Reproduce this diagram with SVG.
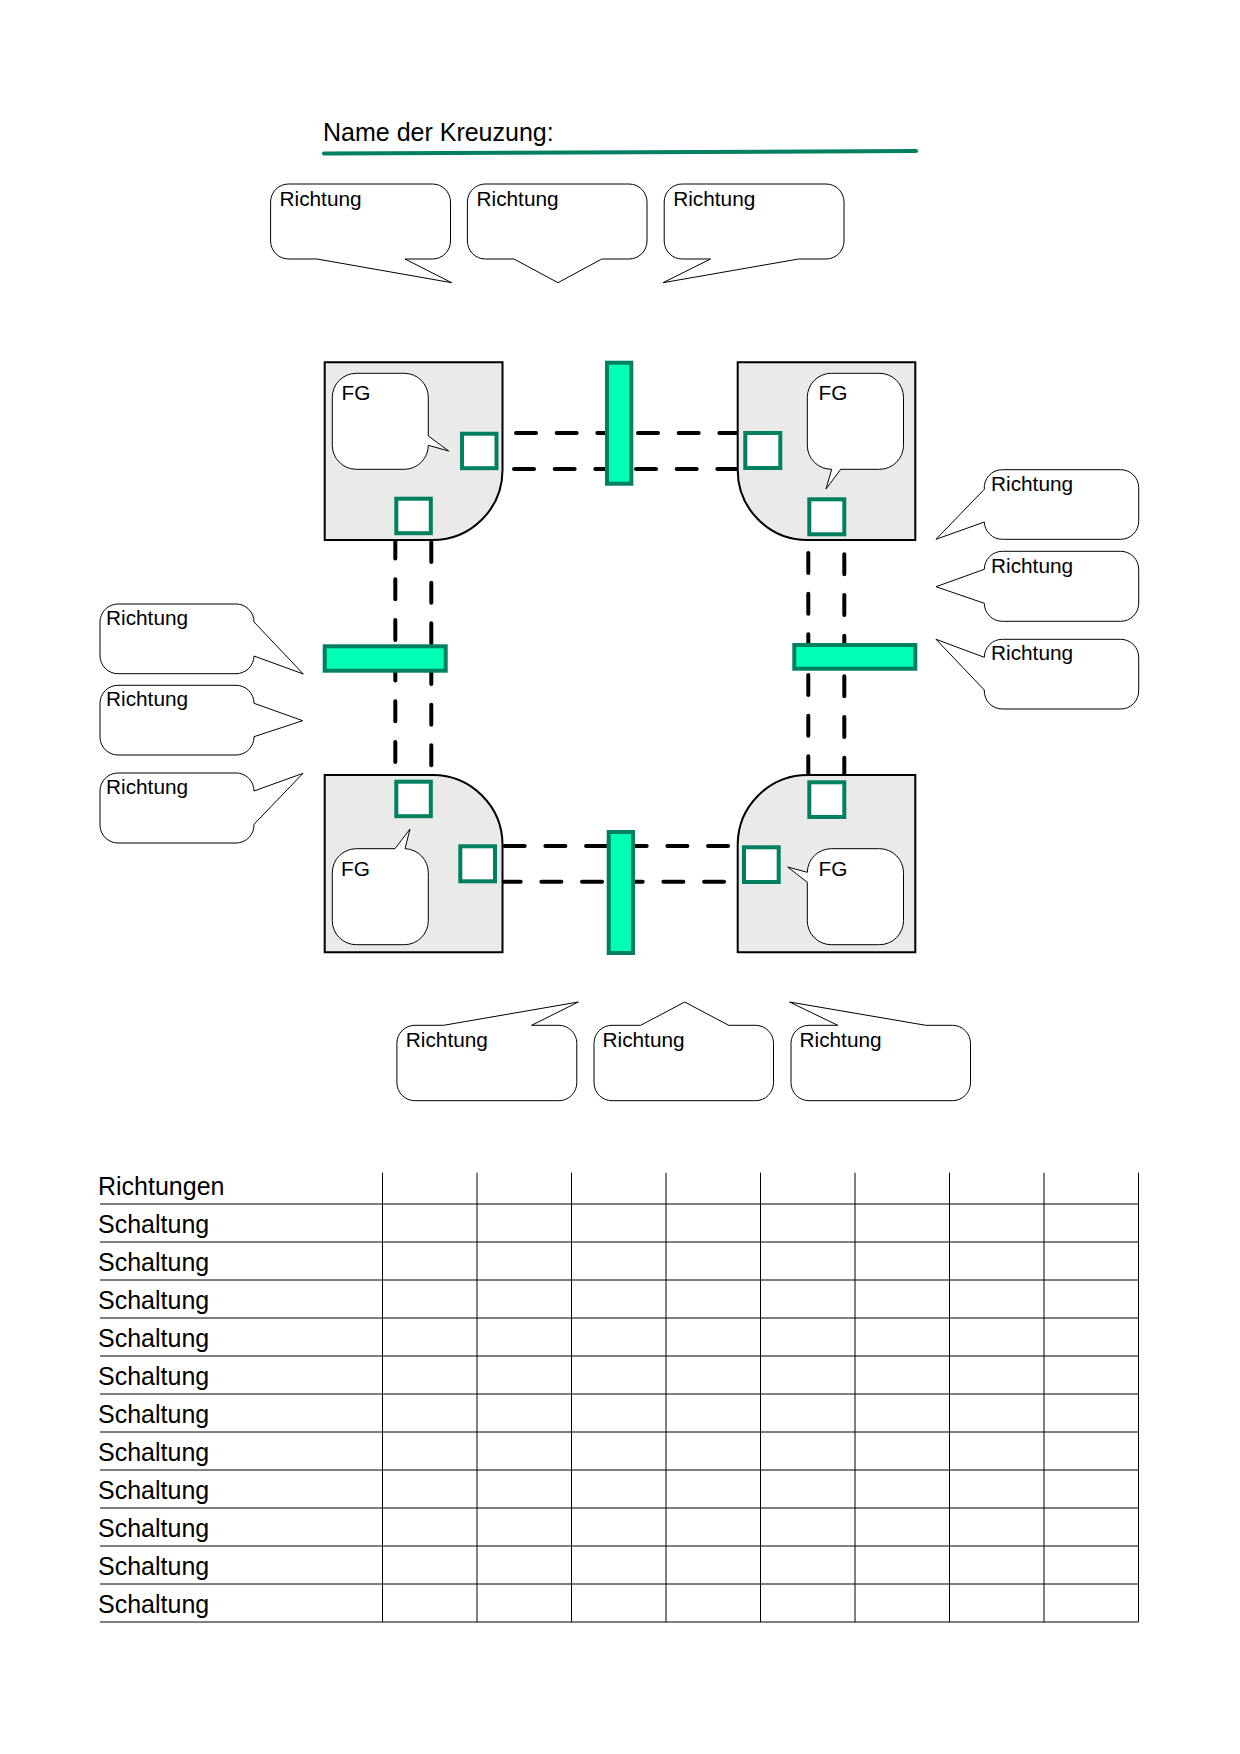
<svg xmlns="http://www.w3.org/2000/svg" width="1240" height="1754" viewBox="0 0 1240 1754">
<style>
text{font-family:"Liberation Sans",Arial,sans-serif;fill:#000}
.d{font-size:20.8px}
.t{font-size:25px}
.c{fill:#fff;stroke:#000;stroke-width:1}
.j{fill:#eaeaea;stroke:#000;stroke-width:2}
.s{fill:#fff;stroke:#008060;stroke-width:4}
.b{fill:#00ffb4;stroke:#008060;stroke-width:4}
.conn{fill:none;stroke:#000;stroke-width:4;stroke-linecap:round;stroke-dasharray:20 20.67}
.g{fill:none;stroke:#000;stroke-width:1}
</style>
<rect width="1240" height="1754" fill="#fff"/>
<g id="title">
<text class="t" x="323" y="141">Name der Kreuzung:</text>
<path d="M324 153.5L916 151" fill="none" stroke="#008060" stroke-width="4" stroke-linecap="round"/>
</g>
<g id="connectors">
<path class="conn" d="M516 433H739"/>
<path class="conn" d="M514 469H739"/>
<path class="conn" d="M504.7 846H730"/>
<path class="conn" d="M500.7 881.7H726"/>
<path class="conn" d="M395.3 538.6V764"/>
<path class="conn" d="M431.3 542V768"/>
<path class="conn" d="M808.3 553V778"/>
<path class="conn" d="M844.3 554.3V778"/>
</g>
<g id="junction-tl">
<path class="j" d="M324.7 362.3H502.5V470A70 70 0 0 1 432.5 540H324.7Z"/>
<rect class="s" x="462" y="433.7" width="34.5" height="34.5"/>
<rect class="s" x="396.3" y="498.7" width="34.5" height="34.5"/>
<path class="c" d="M356.3 373.3H404.3A24 24 0 0 1 428.3 397.3V436L448.7 451L428.3 445.3A24 24 0 0 1 404.3 469.3H356.3A24 24 0 0 1 332.3 445.3V397.3A24 24 0 0 1 356.3 373.3Z"/>
<text class="d" x="341.5" y="400">FG</text>
</g>
<g id="junction-tr">
<path class="j" d="M737.7 362.3H915.3V540H807.7A70 70 0 0 1 737.7 470Z"/>
<rect class="s" x="745.3" y="433" width="35" height="35"/>
<rect class="s" x="809.3" y="499.3" width="35" height="35"/>
<path class="c" d="M831.3 373.3H879.5A24 24 0 0 1 903.5 397.3V445.3A24 24 0 0 1 879.5 469.3H840.7L826 489L831.7 469.3A24 24 0 0 1 807.3 445.3V397.3A24 24 0 0 1 831.3 373.3Z"/>
<text class="d" x="818.5" y="400">FG</text>
</g>
<g id="junction-bl">
<path class="j" d="M324.7 775H432.5A70 70 0 0 1 502.5 845V952.3H324.7Z"/>
<rect class="s" x="396.3" y="781.7" width="34.5" height="34.5"/>
<rect class="s" x="460.3" y="846.3" width="34.7" height="35"/>
<path class="c" d="M356.3 848.7H395L410 829L405 848.7A24 24 0 0 1 428.3 872.7V920.7A24 24 0 0 1 404.3 944.7H356.3A24 24 0 0 1 332.3 920.7V872.7A24 24 0 0 1 356.3 848.7Z"/>
<text class="d" x="341" y="876">FG</text>
</g>
<g id="junction-br">
<path class="j" d="M807.7 775H915.3V952.3H737.7V845A70 70 0 0 1 807.7 775Z"/>
<rect class="s" x="809.3" y="782.3" width="35" height="34.7"/>
<rect class="s" x="744" y="847.3" width="34.7" height="34.7"/>
<path class="c" d="M831.3 848.7H879.5A24 24 0 0 1 903.5 872.7V920.7A24 24 0 0 1 879.5 944.7H831.3A24 24 0 0 1 807.3 920.7V882.3L787.7 867L807.3 872.3A24 24 0 0 1 831.3 848.7Z"/>
<text class="d" x="818.5" y="876">FG</text>
</g>
<g id="bar-top"><rect class="b" x="607" y="362.7" width="24.3" height="121"/></g>
<g id="bar-bottom"><rect class="b" x="608.7" y="832" width="24.3" height="121"/></g>
<g id="bar-left"><rect class="b" x="324.7" y="646.3" width="121" height="24.4"/></g>
<g id="bar-right"><rect class="b" x="794.3" y="645" width="121" height="23.7"/></g>
<g id="callout-top-1">
<path class="c" d="M288.6 184H432.5A18 18 0 0 1 450.5 202V241A18 18 0 0 1 432.5 259H405L451.6 282.7L317 259H288.6A18 18 0 0 1 270.6 241V202A18 18 0 0 1 288.6 184Z"/>
<text class="d" x="279.5" y="206">Richtung</text>
</g>
<g id="callout-top-2">
<path class="c" d="M485.4 184H629A18 18 0 0 1 647 202V241A18 18 0 0 1 629 259H601.8L558 282.7L514 259H485.4A18 18 0 0 1 467.4 241V202A18 18 0 0 1 485.4 184Z"/>
<text class="d" x="476.5" y="206">Richtung</text>
</g>
<g id="callout-top-3">
<path class="c" d="M682.2 184H826A18 18 0 0 1 844 202V241A18 18 0 0 1 826 259H798.6L663 282.7L710.5 259H682.2A18 18 0 0 1 664.2 241V202A18 18 0 0 1 682.2 184Z"/>
<text class="d" x="673.2" y="206">Richtung</text>
</g>
<g id="callout-left-1">
<path class="c" d="M118 604H236A18 18 0 0 1 254 622L303.3 674L254 656A18 18 0 0 1 236 673.7H118A18 18 0 0 1 100 655.7V622A18 18 0 0 1 118 604Z"/>
<text class="d" x="106" y="624.5">Richtung</text>
</g>
<g id="callout-left-2">
<path class="c" d="M118 685.3H236A18 18 0 0 1 254 703.3L302.7 720.7L254 736.7A18 18 0 0 1 236 755H118A18 18 0 0 1 100 737V703.3A18 18 0 0 1 118 685.3Z"/>
<text class="d" x="106" y="705.8">Richtung</text>
</g>
<g id="callout-left-3">
<path class="c" d="M118 773H236A18 18 0 0 1 254 791L303 773.3L254 824.3A18 18 0 0 1 236 843H118A18 18 0 0 1 100 825V791A18 18 0 0 1 118 773Z"/>
<text class="d" x="106" y="793.8">Richtung</text>
</g>
<g id="callout-right-1">
<path class="c" d="M1002.3 469.7H1120.7A18 18 0 0 1 1138.7 487.7V521.3A18 18 0 0 1 1120.7 539.3H1002.3A18 18 0 0 1 984.3 522L936 539.3L984.3 489.3A18 18 0 0 1 1002.3 469.7Z"/>
<text class="d" x="991" y="491.2">Richtung</text>
</g>
<g id="callout-right-2">
<path class="c" d="M1002.3 551.3H1120.7A18 18 0 0 1 1138.7 569.3V603.3A18 18 0 0 1 1120.7 621.3H1002.3A18 18 0 0 1 984.3 603.3L936 586.7L984.3 569.3A18 18 0 0 1 1002.3 551.3Z"/>
<text class="d" x="991" y="572.8">Richtung</text>
</g>
<g id="callout-right-3">
<path class="c" d="M1002.3 639.3H1120.7A18 18 0 0 1 1138.7 657.3V691A18 18 0 0 1 1120.7 709H1002.3A18 18 0 0 1 984.3 690L936 639.3L984.3 657.3A18 18 0 0 1 1002.3 639.3Z"/>
<text class="d" x="991" y="660">Richtung</text>
</g>
<g id="callout-bottom-1">
<path class="c" d="M414.9 1025.3H443.6L578.3 1002L531.6 1025.3H558.8A18 18 0 0 1 576.8 1043.3V1082.7A18 18 0 0 1 558.8 1100.7H414.9A18 18 0 0 1 396.9 1082.7V1043.3A18 18 0 0 1 414.9 1025.3Z"/>
<text class="d" x="405.8" y="1047">Richtung</text>
</g>
<g id="callout-bottom-2">
<path class="c" d="M612 1025.3H640.7L684.7 1002L728.7 1025.3H755.5A18 18 0 0 1 773.5 1043.3V1082.7A18 18 0 0 1 755.5 1100.7H612A18 18 0 0 1 594 1082.7V1043.3A18 18 0 0 1 612 1025.3Z"/>
<text class="d" x="602.5" y="1047">Richtung</text>
</g>
<g id="callout-bottom-3">
<path class="c" d="M809 1025.3H837.8L789.5 1002L925.8 1025.3H952.5A18 18 0 0 1 970.5 1043.3V1082.7A18 18 0 0 1 952.5 1100.7H809A18 18 0 0 1 791 1082.7V1043.3A18 18 0 0 1 809 1025.3Z"/>
<text class="d" x="799.5" y="1047">Richtung</text>
</g>
<g id="table">
<path class="g" d="M100 1204H1138.3M100 1242H1138.3M100 1280H1138.3M100 1318H1138.3M100 1356H1138.3M100 1394H1138.3M100 1432H1138.3M100 1470H1138.3M100 1508H1138.3M100 1546H1138.3M100 1584H1138.3M100 1622H1138.3"/>
<path class="g" d="M382.5 1172.7V1622M477 1172.7V1622M571.5 1172.7V1622M666 1172.7V1622M760.5 1172.7V1622M855 1172.7V1622M949.5 1172.7V1622M1044 1172.7V1622M1138.5 1172.7V1622"/>
<text class="t" x="98" y="1195">Richtungen</text>
<text class="t" x="98" y="1233">Schaltung</text>
<text class="t" x="98" y="1271">Schaltung</text>
<text class="t" x="98" y="1309">Schaltung</text>
<text class="t" x="98" y="1347">Schaltung</text>
<text class="t" x="98" y="1385">Schaltung</text>
<text class="t" x="98" y="1423">Schaltung</text>
<text class="t" x="98" y="1461">Schaltung</text>
<text class="t" x="98" y="1499">Schaltung</text>
<text class="t" x="98" y="1537">Schaltung</text>
<text class="t" x="98" y="1575">Schaltung</text>
<text class="t" x="98" y="1613">Schaltung</text>
</g>
</svg>
